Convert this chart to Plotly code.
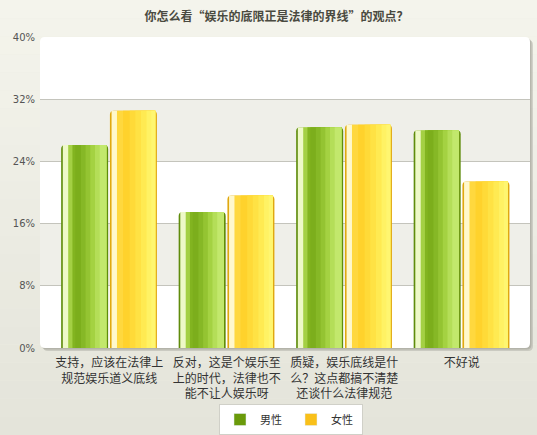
"""
Grouped bar chart: survey on entertainment limits vs. law, split by gender.
Rendered with Plotly; bars get a layered stripe gradient to mimic the glossy look.
"""
import plotly.graph_objects as go

# ---- data ----
categories = [
    "支持，应该在法律上<br>规范娱乐道义底线",
    "反对，这是个娱乐至<br>上的时代，法律也不<br>能不让人娱乐呀",
    "质疑，娱乐底线是什<br>么？这点都搞不清楚<br>还谈什么法律规范",
    "不好说",
]
male = [26.1, 17.5, 28.4, 28.0]
female = [30.5, 19.6, 28.7, 21.4]
series_names = ["男性", "女性"]
y_ticks = [0, 8, 16, 24, 32, 40]

title_text = "你怎么看“娱乐的底限正是法律的界线”的观点？"

# ---- style ----
FONT = "Noto Sans CJK SC"
BAR_W = 0.40
OFFSETS = [-0.41, 0.005]
EDGE = ["#5f8c0c", "#e0a810"]
LEGEND_COL = ["#6a9a0a", "#f9c01a"]
# (start, colour): each stripe runs from its start to INNER_END, later ones on top
INNER_END = 0.965
STRIPES = [
    [
        (0.035, "#eef9c8"),
        (0.15, "#a4d044"),
        (0.24, "#82b420"),
        (0.30, "#7cae1c"),
        (0.42, "#86b826"),
        (0.52, "#94c432"),
        (0.62, "#a4d242"),
        (0.72, "#b4de58"),
        (0.82, "#c2e86c"),
    ],
    [
        (0.035, "#fff8cc"),
        (0.15, "#ffd83e"),
        (0.28, "#ffd22c"),
        (0.42, "#ffda38"),
        (0.54, "#ffe244"),
        (0.66, "#ffea52"),
        (0.78, "#fff264"),
        (0.88, "#fff670"),
    ],
]

x_pos = list(range(len(categories)))

fig = go.Figure()
for s, (name, vals) in enumerate(zip(series_names, [male, female])):
    # darker full-width bar acts as the outline
    fig.add_trace(
        go.Bar(
            x=x_pos,
            y=vals,
            name=name,
            offset=OFFSETS[s],
            width=BAR_W,
            marker=dict(color=EDGE[s], cornerradius=4, line=dict(width=0)),
            showlegend=False,
            hoverinfo="skip",
        )
    )
    for a, col in STRIPES[s]:
        fig.add_trace(
            go.Bar(
                x=x_pos,
                y=vals,
                offset=OFFSETS[s] + a * BAR_W,
                width=(INNER_END - a) * BAR_W,
                marker=dict(color=col, line=dict(width=0)),
                showlegend=False,
                hoverinfo="skip",
            )
        )
    # legend-only entry
    fig.add_trace(
        go.Bar(
            x=[None],
            y=[None],
            name=name,
            marker=dict(color=LEGEND_COL[s]),
            showlegend=True,
        )
    )

W, H = 537, 435
ML, MR, MT, MB = 40, 7, 37, 87
PW, PH = W - ML - MR, H - MT - MB  # plot area in px
shapes = []
# page background gradient (top -> bottom), in paper units spanning the whole page
top_c, bot_c = (0xF4, 0xF4, 0xEC), (0xE4, 0xE4, 0xDA)
n = 24
y0p, y1p = -MB / PH, 1 + MT / PH
for i in range(n):
    t = i / (n - 1)
    c = tuple(round(top_c[k] + (bot_c[k] - top_c[k]) * t) for k in range(3))
    shapes.append(
        dict(
            type="rect", xref="paper", yref="paper", layer="below",
            x0=-0.1, x1=1.1,
            y0=y1p - (y1p - y0p) * (i + 1) / n, y1=y1p - (y1p - y0p) * i / n,
            fillcolor="rgb(%d,%d,%d)" % c, line=dict(width=0),
        )
    )


def rounded(dx, dy, color):
    rx, ry = 5 / PW, 5 / PH
    x0, x1, y0, y1 = 0 + dx, 1 + dx, 0 + dy, 1 + dy
    path = (
        f"M {x0+rx},{y0} L {x1-rx},{y0} Q {x1},{y0} {x1},{y0+ry} "
        f"L {x1},{y1-ry} Q {x1},{y1} {x1-rx},{y1} L {x0+rx},{y1} "
        f"Q {x0},{y1} {x0},{y1-ry} L {x0},{y0+ry} Q {x0},{y0} {x0+rx},{y0} Z"
    )
    return dict(type="path", xref="paper", yref="paper", layer="below",
                path=path, fillcolor=color, line=dict(width=0))


shapes.append(rounded(3 / PW, -3 / PH, "rgba(150,150,140,0.35)"))
shapes.append(rounded(1.5 / PW, -1.5 / PH, "rgba(150,150,140,0.45)"))
shapes.append(rounded(0, 0, "#ffffff"))
for lo, hi in [(24, 32), (8, 16)]:
    shapes.append(
        dict(type="rect", xref="paper", yref="y", layer="below",
             x0=0, x1=1, y0=lo, y1=hi, fillcolor="#efefe9", line=dict(width=0))
    )

fig.update_layout(
    width=W,
    height=H,
    margin=dict(l=ML, r=MR, t=MT, b=MB, autoexpand=False),
    paper_bgcolor="#ececE4",
    plot_bgcolor="rgba(0,0,0,0)",
    barmode="overlay",
    font=dict(family=FONT, size=12, color="#333333"),
    title=dict(
        text=f"<b>{title_text}</b>",
        x=0.515, xanchor="center", y=1 - 17 / H, yanchor="middle",
        font=dict(family=FONT, size=12, color="#4a4a40"),
    ),
    xaxis=dict(
        range=[-0.59, 3.58],
        tickmode="array",
        tickvals=x_pos,
        ticktext=categories,
        showgrid=False,
        zeroline=False,
        showline=False,
        ticks="",
        automargin=False,
        ticklabelstandoff=6,
        tickfont=dict(family=FONT, size=12, color="#333333"),
    ),
    yaxis=dict(
        range=[0, 40],
        tickmode="array",
        tickvals=y_ticks,
        ticktext=[f"{v}%" for v in y_ticks],
        showgrid=True,
        gridcolor="#c4c4bc",
        gridwidth=1,
        zeroline=False,
        showline=False,
        ticks="",
        automargin=False,
        ticklabelstandoff=4,
        tickfont=dict(family="DejaVu Sans", size=10, color="#555555"),
    ),
    legend=dict(
        orientation="h",
        xref="container", yref="container",
        x=291 / W, xanchor="center",
        y=1 - 404 / H, yanchor="top",
        bgcolor="#ffffff",
        bordercolor="#d0d0c8",
        borderwidth=1,
        entrywidth=26,
        font=dict(family=FONT, size=11, color="#333333"),
        traceorder="normal",
    ),
    shapes=shapes,
    showlegend=True,
)

# drop the browser's default 8px body margin so the figure sits flush in the window
fig.write_html(
    "out.html",
    config={"displayModeBar": False},
    post_script="document.body.style.margin='0';",
)
